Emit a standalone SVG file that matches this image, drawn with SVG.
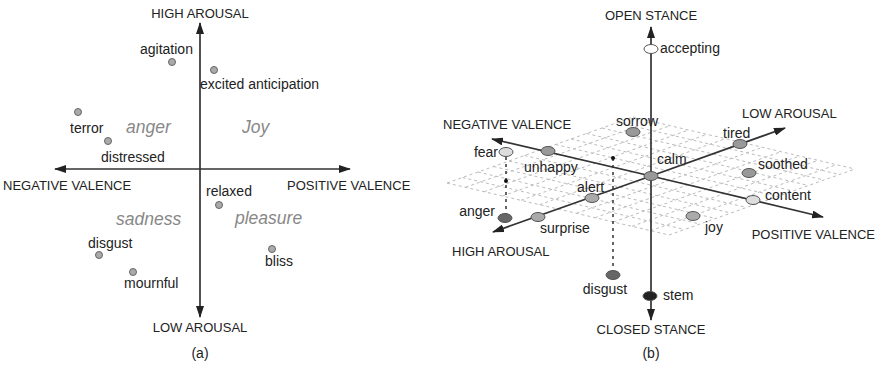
<svg xmlns="http://www.w3.org/2000/svg" width="877" height="370" viewBox="0 0 877 370">
<style>
text{font-family:"Liberation Sans",Arial,sans-serif;fill:#222;}
.lbl{font-size:14px;}
.cap{font-size:13px;}
.mood{font-size:17.5px;font-style:italic;fill:#888;}
.ttl{font-size:14px;}
.axis{stroke:#333;stroke-width:1.7;fill:none;marker-end:url(#ah);}
.pt{fill:#aaa;stroke:#666;stroke-width:1;}
.grid{stroke:#bcbcbc;stroke-width:1;stroke-dasharray:3 3;fill:none;}
.drop{stroke:#333;stroke-width:1.5;stroke-dasharray:3 4;fill:none;}
.el{stroke:#555;stroke-width:1;}
</style>
<defs>
<marker id="ah" viewBox="0 0 12 8" refX="11" refY="4" markerWidth="12" markerHeight="8" markerUnits="userSpaceOnUse" orient="auto">
<path d="M0,0 L12,4 L0,8 Z" fill="#222"/>
</marker>
</defs>
<rect width="877" height="370" fill="#fff"/>

<!-- Panel (a) -->
<g id="connectors-a">
<line class="axis" x1="200" y1="169" x2="200" y2="23"/>
<line class="axis" x1="200" y1="169" x2="200" y2="317"/>
<line class="axis" x1="200" y1="169" x2="55" y2="169"/>
<line class="axis" x1="200" y1="169" x2="350" y2="169"/>
</g>
<g id="a-axis-labels">
<text class="cap" x="200" y="18" text-anchor="middle">HIGH AROUSAL</text>
<text class="cap" x="3" y="190">NEGATIVE VALENCE</text>
<text class="cap" x="287" y="190">POSITIVE VALENCE</text>
<text class="cap" x="200" y="332" text-anchor="middle">LOW AROUSAL</text>
<text class="ttl" x="200" y="358" text-anchor="middle">(a)</text>
</g>
<g id="a-moods">
<text class="mood" x="126" y="133">anger</text>
<text class="mood" x="242" y="133">Joy</text>
<text class="mood" x="116" y="225">sadness</text>
<text class="mood" x="235" y="224">pleasure</text>
</g>
<g id="a-agitation"><circle class="pt" cx="172" cy="62" r="3.5"/><text class="lbl" x="140" y="54">agitation</text></g>
<g id="a-excited"><circle class="pt" cx="214" cy="70" r="3.5"/><text class="lbl" x="200" y="89">excited anticipation</text></g>
<g id="a-terror"><circle class="pt" cx="78" cy="112" r="3.5"/><text class="lbl" x="70" y="133">terror</text></g>
<g id="a-distressed"><circle class="pt" cx="108" cy="141" r="3.5"/><text class="lbl" x="101" y="162">distressed</text></g>
<g id="a-relaxed"><circle class="pt" cx="219" cy="205" r="3.5"/><text class="lbl" x="206" y="196">relaxed</text></g>
<g id="a-disgust"><circle class="pt" cx="99" cy="255" r="3.5"/><text class="lbl" x="88" y="248">disgust</text></g>
<g id="a-bliss"><circle class="pt" cx="272" cy="249" r="3.5"/><text class="lbl" x="265" y="266">bliss</text></g>
<g id="a-mournful"><circle class="pt" cx="133" cy="272" r="3.5"/><text class="lbl" x="124" y="288">mournful</text></g>

<!-- Panel (b) -->
<g id="b-grid">
<path class="grid" d="M447,183L669,235M462.5,177.5L684.5,229.5M478,172L700,224M493.5,166.5L715.5,218.5M509,161L731,213M524.5,155.5L746.5,207.5M540,150L762,202M555.5,144.5L777.5,196.5M571,139L793,191M586.5,133.5L808.5,185.5M602,128L824,180M617.5,122.5L839.5,174.5M633,117L855,169"/>
<path class="grid" d="M447,183L633,117M465.5,187.3L651.5,121.3M484,191.7L670,125.7M502.5,196L688.5,130M521,200.3L707,134.3M539.5,204.7L725.5,138.7M558,209L744,143M576.5,213.3L762.5,147.3M595,217.7L781,151.7M613.5,222L799.5,156M632,226.3L818,160.3M650.5,230.7L836.5,164.7M669,235L855,169"/>
</g>
<g id="connectors-b">
<line class="axis" x1="651" y1="176" x2="651" y2="27"/>
<line class="axis" x1="651" y1="176" x2="651" y2="320"/>
<line class="axis" x1="651" y1="176" x2="492" y2="139"/>
<line class="axis" x1="651" y1="176" x2="823" y2="217"/>
<line class="axis" x1="651" y1="176" x2="785" y2="128"/>
<line class="axis" x1="651" y1="176" x2="493" y2="232"/>
<line class="drop" x1="506" y1="157" x2="506" y2="214"/>
<circle cx="506" cy="181" r="2" fill="#111"/>
<line class="drop" x1="613" y1="158" x2="613" y2="270"/>
<circle cx="613" cy="158" r="2" fill="#111"/>
</g>
<g id="b-axis-labels">
<text class="cap" x="651" y="20" text-anchor="middle">OPEN STANCE</text>
<text class="cap" x="443" y="129">NEGATIVE VALENCE</text>
<text class="cap" x="742" y="118">LOW AROUSAL</text>
<text class="cap" x="875" y="239" text-anchor="end">POSITIVE VALENCE</text>
<text class="cap" x="452" y="256">HIGH AROUSAL</text>
<text class="cap" x="651" y="334" text-anchor="middle">CLOSED STANCE</text>
<text class="ttl" x="651" y="358" text-anchor="middle">(b)</text>
</g>
<g id="b-accepting"><ellipse class="el" cx="651" cy="49" rx="7" ry="4.5" fill="#fff"/><text class="lbl" x="660" y="53">accepting</text></g>
<g id="b-sorrow"><ellipse class="el" cx="633" cy="132" rx="7" ry="4.5" fill="#999"/><text class="lbl" x="616" y="126">sorrow</text></g>
<g id="b-fear"><ellipse class="el" cx="506" cy="152" rx="7" ry="4.5" fill="#ddd"/><text class="lbl" x="498" y="157" text-anchor="end">fear</text></g>
<g id="b-unhappy"><ellipse class="el" cx="548" cy="151" rx="7" ry="4.5" fill="#999"/><text class="lbl" x="524" y="172">unhappy</text></g>
<g id="b-calm"><ellipse class="el" cx="651" cy="176" rx="7" ry="4.5" fill="#999"/><text class="lbl" x="657" y="164">calm</text></g>
<g id="b-tired"><ellipse class="el" cx="740" cy="144" rx="7" ry="4.5" fill="#999"/><text class="lbl" x="723" y="138">tired</text></g>
<g id="b-soothed"><ellipse class="el" cx="749" cy="173" rx="7" ry="4.5" fill="#999"/><text class="lbl" x="758" y="169">soothed</text></g>
<g id="b-alert"><ellipse class="el" cx="592" cy="198" rx="7" ry="4.5" fill="#aaa"/><text class="lbl" x="577" y="192">alert</text></g>
<g id="b-anger"><ellipse class="el" cx="505" cy="218" rx="7" ry="4.5" fill="#666"/><text class="lbl" x="495" y="216" text-anchor="end">anger</text></g>
<g id="b-surprise"><ellipse class="el" cx="538" cy="217" rx="7" ry="4.5" fill="#aaa"/><text class="lbl" x="540" y="233">surprise</text></g>
<g id="b-content"><ellipse class="el" cx="753" cy="200" rx="7" ry="4.5" fill="#ddd"/><text class="lbl" x="765" y="200">content</text></g>
<g id="b-joy"><ellipse class="el" cx="693" cy="216" rx="7" ry="4.5" fill="#aaa"/><text class="lbl" x="705" y="232">joy</text></g>
<g id="b-disgust"><ellipse class="el" cx="613" cy="275" rx="7" ry="4.5" fill="#666"/><text class="lbl" x="605" y="294" text-anchor="middle">disgust</text></g>
<g id="b-stem"><ellipse class="el" cx="650" cy="296" rx="7" ry="4.5" fill="#222"/><text class="lbl" x="663" y="300">stem</text></g>
</svg>
